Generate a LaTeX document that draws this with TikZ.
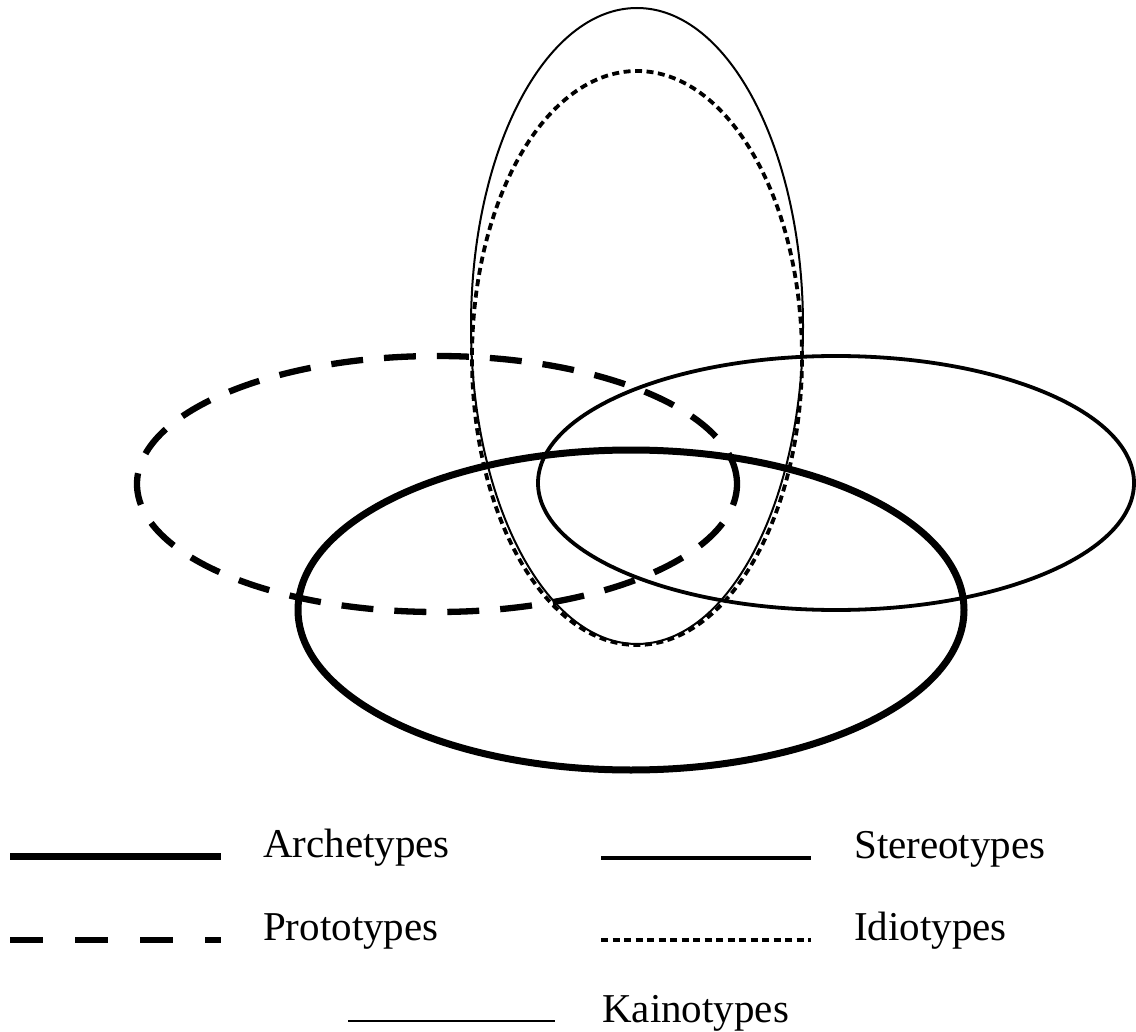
\documentclass[tikz,border=0pt]{standalone}
\usepackage{fontspec}
\setmainfont{Liberation Serif}
\begin{document}
\begin{tikzpicture}[x=1pt,y=-1pt,
  arch/.style={line width=7pt},
  proto/.style={line width=6.3pt,dash pattern=on 32pt off 21pt},
  protoleg/.style={line width=6.5pt,dash pattern=on 33pt off 32pt},
  stereo/.style={line width=3.8pt},
  stereoleg/.style={line width=4.8pt},
  idio/.style={line width=3.8pt,dash pattern=on 7pt off 4.5pt},
  kaino/.style={line width=2pt},
  lbl/.style={anchor=base west,inner sep=0pt,font=\fontsize{41}{49}\selectfont}]
\useasboundingbox (0,0) rectangle (1136,1032);
% ellipses
\draw[kaino] (637,326) ellipse [x radius=166pt, y radius=318pt];
\draw[idio] (637,358) ellipse [x radius=165pt, y radius=287pt];
\draw[proto] (437,484) ellipse [x radius=300pt, y radius=128pt];
\draw[stereo] (836,483) ellipse [x radius=298pt, y radius=127pt];
\draw[arch] (631,610) ellipse [x radius=333pt, y radius=160pt];
% legend
\coordinate (a1) at (10,856); \coordinate (a2) at (221,856);
\coordinate (p1) at (10,940); \coordinate (p2) at (221,940);
\coordinate (s1) at (601,858); \coordinate (s2) at (811,858);
\coordinate (i1) at (601,940); \coordinate (i2) at (811,940);
\coordinate (k1) at (348,1021); \coordinate (k2) at (555,1021);
\draw[arch] (a1) -- (a2);
\draw[protoleg] (p1) -- (p2);
\draw[stereoleg] (s1) -- (s2);
\draw[idio] (i1) -- (i2);
\draw[kaino] (k1) -- (k2);
\node[lbl] (ta) at (263,857) {Archetypes};
\node[lbl] (tp) at (263,940) {Prototypes};
\node[lbl] (ts) at (854,858) {Stereotypes};
\node[lbl] (ti) at (854,940) {Idiotypes};
\node[lbl] (tk) at (602,1022) {Kainotypes};
\end{tikzpicture}
\end{document}
